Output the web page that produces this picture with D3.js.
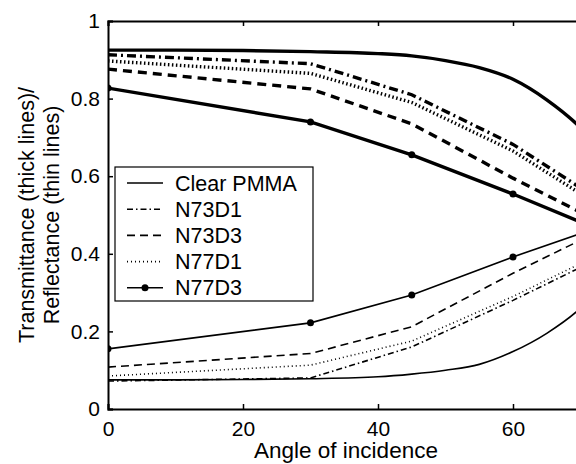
<!DOCTYPE html>
<html>
<head>
<meta charset="utf-8">
<script src="https://cdn.jsdelivr.net/npm/d3@7"></script>
<style>
  body { margin: 0; background: #fff; }
  text { font-family: "Liberation Sans", Arial, sans-serif; fill: #000; }
</style>
</head>
<body>
<div id="chart"></div>
<script>
const WIDTH = 576, HEIGHT = 464;
const LEFT = 108, TOP = 21, BOTTOM = 409, PX_PER_DEG = 6.75;

// angles (deg) and values
var angles = [0, 30, 45, 60, 70];
var clearAngles = [0, 10, 20, 30, 40, 45, 50, 55, 60, 65, 70, 75];
var clearT = [0.925, 0.925, 0.924, 0.921, 0.916, 0.91, 0.898, 0.88, 0.85, 0.797, 0.725, 0.62];
var clearR = [0.075, 0.075, 0.076, 0.078, 0.083, 0.09, 0.1, 0.115, 0.148, 0.195, 0.26, 0.36];
var n73d1T = [0.913, 0.89, 0.81, 0.682, 0.57];
var n73d1R = [0.072, 0.08, 0.16, 0.28, 0.365];
var n73d3T = [0.876, 0.825, 0.735, 0.595, 0.507];
var n73d3R = [0.108, 0.143, 0.212, 0.35, 0.435];
var n77d1T = [0.897, 0.865, 0.79, 0.665, 0.555];
var n77d1R = [0.085, 0.113, 0.175, 0.29, 0.375];
var n77d3T = [0.827, 0.74, 0.655, 0.554, 0.482];
var n77d3R = [0.155, 0.222, 0.294, 0.392, 0.452];

var xTicks = [0, 20, 40, 60];
var xTicksTop = [0, 20, 40, 60, 80];
var yTicks = [0, 0.2, 0.4, 0.6, 0.8, 1];
var legendNames = ["Clear PMMA", "N73D1", "N73D3", "N77D1", "N77D3"];

var styles = {
    "Clear PMMA": { thick: null, thin: null, dots: false },
    "N73D1": { thick: "9,4,2,4", thin: "6,3,1.5,3", dots: false },
    "N73D3": { thick: "9,6", thin: "8,5", dots: false },
    "N77D1": { thick: "1.5,2.5", thin: "1,3", dots: false },
    "N77D3": { thick: null, thin: null, dots: true }
};

var series = [
    { name: "Clear PMMA", x: clearAngles, t: clearT, r: clearR },
    { name: "N73D1", x: angles, t: n73d1T, r: n73d1R },
    { name: "N73D3", x: angles, t: n73d3T, r: n73d3R },
    { name: "N77D1", x: angles, t: n77d1T, r: n77d1R },
    { name: "N77D3", x: angles, t: n77d3T, r: n77d3R }
];

var drawChart = function () {
    var xScale = d3.scaleLinear()
        .domain([0, 90])
        .range([LEFT, LEFT + 90 * PX_PER_DEG]);
    var yScale = d3.scaleLinear()
        .domain([0, 1])
        .range([BOTTOM, TOP]);

    var svg = d3.select("#chart").append("svg")
        .attr("width", WIDTH)
        .attr("height", HEIGHT);

    svg.append("clipPath").attr("id", "plot-clip")
        .append("rect")
        .attr("x", LEFT).attr("y", TOP)
        .attr("width", WIDTH - LEFT).attr("height", BOTTOM - TOP);

    var plot = svg.append("g").attr("clip-path", "url(#plot-clip)");

    series.forEach(function (s) {
        var st = styles[s.name];
        var line = d3.line()
            .x(function (d) { return xScale(d[0]); })
            .y(function (d) { return yScale(d[1]); });
        if (s.name === "Clear PMMA") line.curve(d3.curveMonotoneX);

        var tPts = s.x.map(function (a, i) { return [a, s.t[i]]; });
        var rPts = s.x.map(function (a, i) { return [a, s.r[i]]; });

        plot.append("path")
            .attr("d", line(tPts))
            .attr("fill", "none")
            .attr("stroke", "#000")
            .attr("stroke-width", 3.4)
            .attr("stroke-dasharray", st.thick);
        plot.append("path")
            .attr("d", line(rPts))
            .attr("fill", "none")
            .attr("stroke", "#000")
            .attr("stroke-width", 1.6)
            .attr("stroke-dasharray", st.thin);

        if (st.dots) {
            plot.selectAll(null)
                .data(tPts.concat(rPts))
                .enter().append("circle")
                .attr("cx", function (d) { return xScale(d[0]); })
                .attr("cy", function (d) { return yScale(d[1]); })
                .attr("r", 3.5)
                .attr("fill", "#000");
        }
    });

    // axes (ticks pointing inward)
    var fmt = function (d) { return String(d); };
    var xBottom = svg.append("g")
        .attr("transform", "translate(0," + BOTTOM + ")")
        .call(d3.axisBottom(xScale).tickValues(xTicks).tickSize(-5).tickPadding(12).tickFormat(fmt));
    var xTop = svg.append("g")
        .attr("transform", "translate(0," + TOP + ")")
        .call(d3.axisTop(xScale).tickValues(xTicksTop).tickSize(-5).tickFormat(""));
    var yLeft = svg.append("g")
        .attr("transform", "translate(" + LEFT + ",0)")
        .call(d3.axisLeft(yScale).tickValues(yTicks).tickSize(-5).tickPadding(8).tickFormat(fmt));

    [xBottom, xTop, yLeft].forEach(function (g) {
        g.select(".domain").attr("stroke-width", 2).attr("stroke", "#000");
        g.selectAll(".tick line").attr("stroke-width", 1.5).attr("stroke", "#000");
        g.selectAll(".tick text").attr("font-size", 21).attr("font-family", null).attr("fill", "#000");
    });

    // axis titles
    svg.append("text")
        .attr("x", 346)
        .attr("y", 458)
        .attr("text-anchor", "middle")
        .attr("font-size", 22.5)
        .text("Angle of incidence");

    var yTitle = svg.append("g")
        .attr("transform", "translate(34," + ((TOP + BOTTOM) / 2) + ") rotate(-90)");
    yTitle.append("text")
        .attr("text-anchor", "middle")
        .attr("font-size", 21.5)
        .text("Transmittance (thick lines)/");
    yTitle.append("text")
        .attr("y", 25)
        .attr("text-anchor", "middle")
        .attr("font-size", 21.5)
        .text("Reflectance (thin lines)");

    // legend
    var legend = svg.append("g").attr("transform", "translate(115,167)");
    legend.append("rect")
        .attr("width", 198).attr("height", 134)
        .attr("fill", "#fff").attr("stroke", "#000").attr("stroke-width", 1.2);

    var item = legend.selectAll(".item")
        .data(legendNames)
        .enter().append("g")
        .attr("transform", function (d, i) { return "translate(0," + (16 + i * 26.2) + ")"; });
    item.append("line")
        .attr("x1", 12).attr("x2", 48)
        .attr("stroke", "#000").attr("stroke-width", 1.6)
        .attr("stroke-dasharray", function (d) { return styles[d].thin; });
    item.filter(function (d) { return styles[d].dots; })
        .append("circle").attr("cx", 30).attr("r", 3.5).attr("fill", "#000");
    item.append("text")
        .attr("x", 60).attr("dy", "0.35em")
        .attr("font-size", 21.5)
        .text(function (d) { return d; });
};

window.onload = drawChart;
</script>
</body>
</html>
